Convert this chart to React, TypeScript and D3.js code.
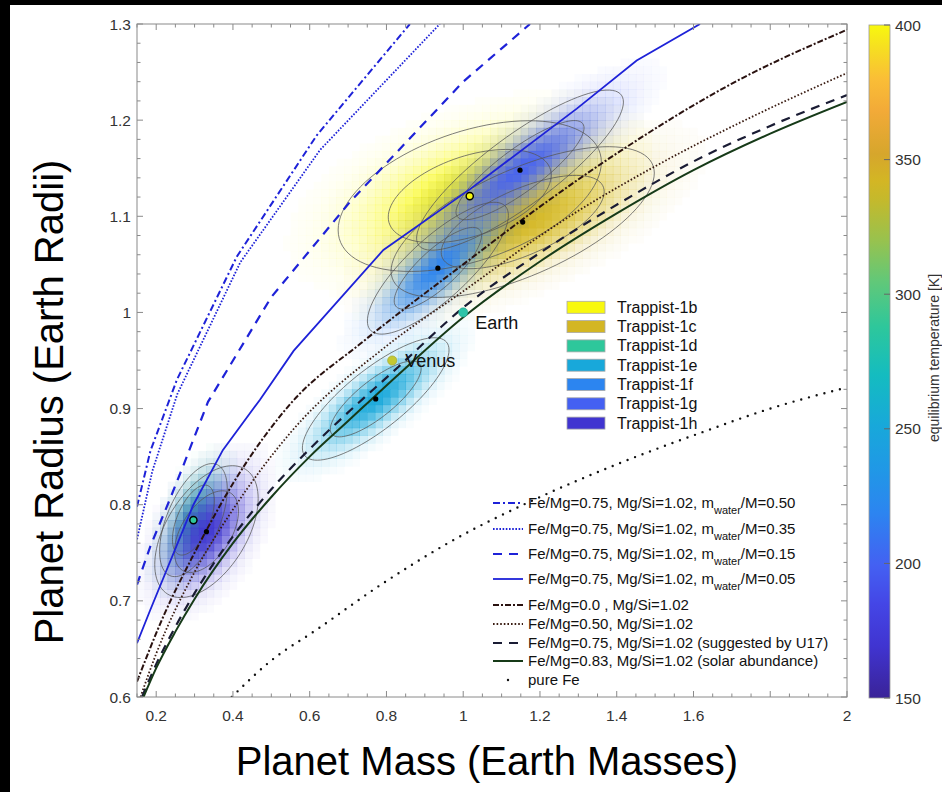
import React, { useEffect, useRef } from 'react';
import * as d3 from 'd3';

const W = 942;
const H = 792;
const FONT = '"Liberation Sans", Arial, Helvetica, sans-serif';

// model mass-radius curves (mass in Earth masses, radius in Earth radii)
const water50M = [0.15, 0.185, 0.254, 0.41, 0.618, 0.861];
const water50R = [0.798, 0.856, 0.93, 1.058, 1.184, 1.3];
const water35M = [0.15, 0.19, 0.255, 0.419, 0.627, 0.939];
const water35R = [0.764, 0.835, 0.915, 1.052, 1.169, 1.3];
const water15M = [0.15, 0.185, 0.235, 0.27, 0.335, 0.5, 0.705, 1.0, 1.174];
const water15R = [0.717, 0.757, 0.805, 0.84, 0.907, 1.016, 1.115, 1.24, 1.3];
const water05M = [0.15, 0.184, 0.297, 0.374, 0.47, 0.558, 0.792, 1.017, 1.296, 1.452, 1.617];
const water05R = [0.656, 0.69, 0.8, 0.857, 0.909, 0.96, 1.065, 1.128, 1.212, 1.262, 1.3];
const feMg00M = [0.15, 0.22, 0.3, 0.4, 0.55, 0.74, 1.0, 1.2, 1.41, 1.7, 2.0];
const feMg00R = [0.616, 0.685, 0.75, 0.822, 0.905, 0.97, 1.05, 1.11, 1.168, 1.238, 1.294];
const feMg50M = [0.159, 0.2, 0.3, 0.4, 0.55, 0.8, 1.0, 1.25, 1.5, 1.75, 2.0];
const feMg50R = [0.6, 0.645, 0.73, 0.795, 0.875, 0.965, 1.022, 1.093, 1.152, 1.203, 1.249];
const feMg75M = [0.163, 0.2, 0.25, 0.3, 0.4, 0.5, 0.6, 0.7, 0.83, 1.0, 1.2, 1.4, 1.6, 1.8, 2.0];
const feMg75R = [0.6, 0.634, 0.673, 0.708, 0.767, 0.816, 0.858, 0.896, 0.943, 1.005, 1.062, 1.112, 1.157, 1.194, 1.226];
const feMg83M = [0.167, 0.2, 0.25, 0.3, 0.4, 0.5, 0.6, 0.7, 0.83, 1.0, 1.2, 1.4, 1.6, 1.8, 2.0];
const feMg83R = [0.6, 0.63, 0.668, 0.702, 0.76, 0.808, 0.85, 0.887, 0.935, 0.995, 1.053, 1.103, 1.148, 1.186, 1.219];
const pureFeM = [0.397, 0.5, 0.618, 0.79, 0.96, 1.2, 1.4, 1.62, 1.8, 2.0];
const pureFeR = [0.6, 0.638, 0.67, 0.718, 0.76, 0.808, 0.842, 0.875, 0.9, 0.922];

// TRAPPIST-1 planets: posterior centre, spread and correlation, equilibrium temperature
const planetNames = ['Trappist-1b', 'Trappist-1c', 'Trappist-1d', 'Trappist-1e', 'Trappist-1f', 'Trappist-1g', 'Trappist-1h'];
const planetMass = [1.017, 1.155, 0.297, 0.772, 0.934, 1.148, 0.331];
const planetRadius = [1.121, 1.094, 0.784, 0.91, 1.046, 1.148, 0.772];
const sigmaMass = [0.14, 0.14, 0.036, 0.078, 0.075, 0.11, 0.055];
const sigmaRadius = [0.032, 0.032, 0.024, 0.026, 0.028, 0.034, 0.028];
const corr = [0.45, 0.65, 0.55, 0.8, 0.8, 0.85, 0.5];
const teq = [400, 342, 288, 251, 219, 199, 169];

// solar-system reference points
const refNames = ['Earth', 'Venus'];
const refMass = [1.0, 0.815];
const refRadius = [1.0, 0.95];
const refColors = ['#2ec4a8', '#c4c832'];

// colour map for equilibrium temperature
const cmapT = [150, 169, 185, 199, 219, 235, 251, 270, 288, 305, 320, 335, 342, 352, 368, 380, 392, 400];
const cmapC = ['#3a2398', '#4034d0', '#4446e6', '#4460f2', '#2c85f0', '#2098e6', '#18a8da', '#14bcc0', '#2ec79b',
  '#62c878', '#98c24e', '#c4b92c', '#d3b624', '#d6a62c', '#f2aa38', '#fabe36', '#f6e020', '#f8f80e'];
const cbarTicks = [150, 200, 250, 300, 350, 400];

const xTickLabels = [0.2, 0.4, 0.6, 0.8, 1, 1.2, 1.4, 1.6, 2];
const yTickLabels = [0.6, 0.7, 0.8, 0.9, 1, 1.1, 1.2, 1.3];

const BLUE = '#1e22d8';
const curves = [
  { m: water50M, r: water50R, color: BLUE, width: 2, dash: '7 3 2 3', cap: 'butt', label: ['Fe/Mg=0.75, Mg/Si=1.02, m', 'water', '/M=0.50'] },
  { m: water35M, r: water35R, color: BLUE, width: 1.8, dash: '1.6 1.6', cap: 'butt', label: ['Fe/Mg=0.75, Mg/Si=1.02, m', 'water', '/M=0.35'] },
  { m: water15M, r: water15R, color: BLUE, width: 2.2, dash: '9 7', cap: 'butt', label: ['Fe/Mg=0.75, Mg/Si=1.02, m', 'water', '/M=0.15'] },
  { m: water05M, r: water05R, color: BLUE, width: 1.8, dash: null, cap: 'butt', label: ['Fe/Mg=0.75, Mg/Si=1.02, m', 'water', '/M=0.05'] },
  { m: feMg00M, r: feMg00R, color: '#2a1210', width: 2, dash: '6 2 2 2', cap: 'butt', label: ['Fe/Mg=0.0 , Mg/Si=1.02'] },
  { m: feMg50M, r: feMg50R, color: '#3a1c12', width: 1.8, dash: '1.6 2', cap: 'butt', label: ['Fe/Mg=0.50, Mg/Si=1.02'] },
  { m: feMg75M, r: feMg75R, color: '#1a1c34', width: 2.2, dash: '9 7', cap: 'butt', label: ['Fe/Mg=0.75, Mg/Si=1.02 (suggested by U17)'] },
  { m: feMg83M, r: feMg83R, color: '#163a18', width: 2, dash: null, cap: 'butt', label: ['Fe/Mg=0.83, Mg/Si=1.02 (solar abundance)'] },
  { m: pureFeM, r: pureFeR, color: '#111', width: 2.4, dash: '0 8', cap: 'round', label: ['pure Fe'] },
];

function draw(svg: any) {
  const x = d3.scaleLinear().domain([0.15, 2]).range([137, 847]);
  const y = d3.scaleLinear().domain([0.6, 1.3]).range([697, 24]);
  const tColor = d3.scaleLinear<string>().domain(cmapT).range(cmapC).interpolate(d3.interpolateRgb);

  svg.append('rect').attr('width', W).attr('height', H).attr('fill', '#fff');
  svg.append('rect').attr('width', W).attr('height', 5).attr('fill', '#000');
  svg.append('rect').attr('width', 10).attr('height', H).attr('fill', '#000');

  const defs = svg.append('defs');
  defs.append('clipPath').attr('id', 'plot')
    .append('rect').attr('x', 137).attr('y', 24).attr('width', 710).attr('height', 673);

  /**
  * Posterior density blobs
  **/
  const gBlob = svg.append('g').attr('clip-path', 'url(#plot)');
  const dx = 0.02, dy = 0.008;
  planetNames.forEach((name, k) => {
    const cells: any[] = [];
    const mx = planetMass[k], my = planetRadius[k], sx = sigmaMass[k], sy = sigmaRadius[k], rho = corr[k];
    const i0 = Math.floor((mx - 3.4 * sx - 0.15) / dx), i1 = Math.ceil((mx + 3.4 * sx - 0.15) / dx);
    const j0 = Math.floor((my - 3.4 * sy - 0.6) / dy), j1 = Math.ceil((my + 3.4 * sy - 0.6) / dy);
    for (let i = i0; i <= i1; i++) {
      for (let j = j0; j <= j1; j++) {
        const cx = 0.15 + (i + 0.5) * dx, cy = 0.6 + (j + 0.5) * dy;
        const u = (cx - mx) / sx, v = (cy - my) / sy;
        const q = (u * u - 2 * rho * u * v + v * v) / (1 - rho * rho);
        const op = 0.97 * Math.exp(-0.33 * q);
        if (op > 0.02) cells.push({ x0: 0.15 + i * dx, y0: 0.6 + j * dy, op });
      }
    }
    gBlob.append('g').selectAll('rect').data(cells).enter().append('rect')
      .attr('x', (d: any) => x(d.x0))
      .attr('y', (d: any) => y(d.y0 + dy))
      .attr('width', x(0.15 + dx) - x(0.15) + 0.4)
      .attr('height', y(0.6) - y(0.6 + dy) + 0.4)
      .attr('fill', tColor(teq[k]))
      .attr('fill-opacity', (d: any) => d.op);
  });

  // contour lines (68% and 95%)
  const contourLine = d3.line<number[]>().x(d => x(d[0])).y(d => y(d[1])).curve(d3.curveLinearClosed);
  planetNames.forEach((name, k) => {
    [2.3, 6.0].forEach(level => {
      const a = Math.sqrt(level);
      const pts = d3.range(0, 96).map(s => {
        const t = (s / 96) * Math.PI * 2;
        const u = a * Math.cos(t);
        const v = corr[k] * u + Math.sqrt(1 - corr[k] * corr[k]) * a * Math.sin(t);
        return [planetMass[k] + sigmaMass[k] * u, planetRadius[k] + sigmaRadius[k] * v];
      });
      gBlob.append('path').attr('d', contourLine(pts))
        .attr('fill', 'none').attr('stroke', '#555').attr('stroke-width', 0.9).attr('stroke-opacity', 0.85);
    });
  });

  /**
  * Model curves
  **/
  const gCurves = svg.append('g').attr('clip-path', 'url(#plot)');
  curves.forEach((c, k) => {
    const pts = c.m.map((m, i) => [m, c.r[i]]);
    const line = d3.line<number[]>().x(d => x(d[0])).y(d => y(d[1]))
      .curve(k < 4 ? d3.curveLinear : d3.curveMonotoneX);
    gCurves.append('path').attr('d', line(pts))
      .attr('fill', 'none').attr('stroke', c.color).attr('stroke-width', c.width)
      .attr('stroke-dasharray', c.dash).attr('stroke-linecap', c.cap);
  });

  /**
  * Planet and reference markers
  **/
  planetNames.forEach((name, k) => {
    const special = k === 0 || k === 2;
    svg.append('circle').attr('cx', x(planetMass[k])).attr('cy', y(planetRadius[k]))
      .attr('r', special ? 3.6 : 2.6)
      .attr('fill', special ? tColor(teq[k]) : '#000')
      .attr('stroke', '#000').attr('stroke-width', special ? 1.4 : 0);
  });
  refNames.forEach((name, k) => {
    svg.append('circle').attr('cx', x(refMass[k])).attr('cy', y(refRadius[k]))
      .attr('r', 4.6).attr('fill', refColors[k]).attr('stroke', d3.color(refColors[k])!.darker(0.6).toString())
      .attr('stroke-width', 0.6);
  });
  svg.append('text').attr('x', x(1.0) + 12).attr('y', y(1.0) + 17).text('Earth')
    .attr('font-family', FONT).attr('font-size', 18).attr('fill', '#111');
  svg.append('text').attr('x', x(0.815) + 13).attr('y', y(0.95) + 6).text('Venus')
    .attr('font-family', FONT).attr('font-size', 18).attr('fill', '#111');

  /**
  * Axes frame and ticks
  **/
  const gAx = svg.append('g');
  gAx.append('rect').attr('x', 137).attr('y', 24).attr('width', 710).attr('height', 673)
    .attr('fill', 'none').attr('stroke', '#8a8a8a').attr('stroke-width', 1);
  const xMinor = d3.range(0, 38).map(i => +(0.15 + i * 0.05).toFixed(2));
  const yMinor = d3.range(0, 36).map(i => +(0.6 + i * 0.02).toFixed(2));
  xMinor.forEach(v => {
    const major = Math.abs(v * 5 - Math.round(v * 5)) < 1e-6;
    const len = major ? 6 : 3.5;
    gAx.append('line').attr('x1', x(v)).attr('x2', x(v)).attr('y1', 697).attr('y2', 697 - len).attr('stroke', '#8a8a8a');
    gAx.append('line').attr('x1', x(v)).attr('x2', x(v)).attr('y1', 24).attr('y2', 24 + len).attr('stroke', '#8a8a8a');
  });
  yMinor.forEach(v => {
    const major = Math.abs(v * 10 - Math.round(v * 10)) < 1e-6;
    const len = major ? 6 : 3.5;
    gAx.append('line').attr('y1', y(v)).attr('y2', y(v)).attr('x1', 137).attr('x2', 137 + len).attr('stroke', '#8a8a8a');
    gAx.append('line').attr('y1', y(v)).attr('y2', y(v)).attr('x1', 847).attr('x2', 847 - len).attr('stroke', '#8a8a8a');
  });
  xTickLabels.forEach(v => {
    gAx.append('text').attr('x', x(v)).attr('y', 721).attr('text-anchor', 'middle')
      .attr('font-family', FONT).attr('font-size', 15.5).attr('fill', '#333').text(String(v));
  });
  yTickLabels.forEach(v => {
    gAx.append('text').attr('x', 131).attr('y', y(v) + 5.5).attr('text-anchor', 'end')
      .attr('font-family', FONT).attr('font-size', 15.5).attr('fill', '#333').text(String(v));
  });

  svg.append('text').attr('x', 487).attr('y', 775).attr('text-anchor', 'middle')
    .attr('font-family', FONT).attr('font-size', 40).attr('fill', '#000').text('Planet Mass (Earth Masses)');
  svg.append('text').attr('transform', 'translate(63,402) rotate(-90)').attr('text-anchor', 'middle')
    .attr('font-family', FONT).attr('font-size', 40).attr('fill', '#000').text('Planet Radius (Earth Radii)');

  /**
  * Planet legend
  **/
  const gLeg = svg.append('g');
  planetNames.forEach((name, k) => {
    const cy = 307.3 + k * 19.3;
    gLeg.append('rect').attr('x', 567).attr('y', cy - 6).attr('width', 38).attr('height', 12)
      .attr('fill', tColor(teq[k])).attr('stroke', '#aaa').attr('stroke-width', 0.8);
    gLeg.append('text').attr('x', 617).attr('y', cy + 5.5).text(name)
      .attr('font-family', FONT).attr('font-size', 16).attr('fill', '#111');
  });

  /**
  * Curve legend
  **/
  const rowY = [503, 529, 554, 579, 605, 624, 643, 661, 680];
  curves.forEach((c, k) => {
    const cy = rowY[k];
    if (k === 8) {
      gLeg.append('circle').attr('cx', 508).attr('cy', cy).attr('r', 1.2).attr('fill', '#111');
    } else {
      gLeg.append('line').attr('x1', 493).attr('x2', 523).attr('y1', cy).attr('y2', cy)
        .attr('stroke', c.color).attr('stroke-width', c.width).attr('stroke-dasharray', c.dash);
    }
    const t = gLeg.append('text').attr('x', 528).attr('y', cy + 5)
      .attr('font-family', FONT).attr('font-size', 15).attr('fill', '#111');
    t.append('tspan').text(c.label[0]);
    if (c.label.length > 1) {
      t.append('tspan').attr('dy', 6).attr('font-size', 11).text(c.label[1]);
      t.append('tspan').attr('dy', -6).text(c.label[2]);
    }
  });

  /**
  * Colour bar
  **/
  const tY = d3.scaleLinear().domain([150, 400]).range([698, 25]);
  const grad = defs.append('linearGradient').attr('id', 'cbar').attr('x1', 0).attr('x2', 0).attr('y1', 1).attr('y2', 0);
  cmapT.forEach((t, i) => {
    grad.append('stop').attr('offset', (t - 150) / 250).attr('stop-color', cmapC[i]);
  });
  svg.append('rect').attr('x', 869).attr('y', 25).attr('width', 21).attr('height', 673)
    .attr('fill', 'url(#cbar)').attr('stroke', '#999').attr('stroke-width', 0.8);
  cbarTicks.forEach(t => {
    svg.append('line').attr('x1', 884).attr('x2', 890).attr('y1', tY(t)).attr('y2', tY(t))
      .attr('stroke', '#666').attr('stroke-width', 1);
    svg.append('text').attr('x', 895).attr('y', tY(t) + 5.5).text(String(t))
      .attr('font-family', FONT).attr('font-size', 15.5).attr('fill', '#333');
  });
  svg.append('text').attr('transform', 'translate(939,358) rotate(-90)').attr('text-anchor', 'middle')
    .attr('font-family', FONT).attr('font-size', 14).attr('fill', '#333').text('equilibrium temperature [K]');
}

export default function App() {
  const ref = useRef<SVGSVGElement>(null);

  useEffect(() => {
    const svg = d3.select(ref.current);
    svg.selectAll('*').remove();
    draw(svg);
  }, []);

  return (
    <div>
      <style>{'body{margin:0}'}</style>
      <svg ref={ref} width={W} height={H} style={{ display: 'block' }} />
    </div>
  );
}
